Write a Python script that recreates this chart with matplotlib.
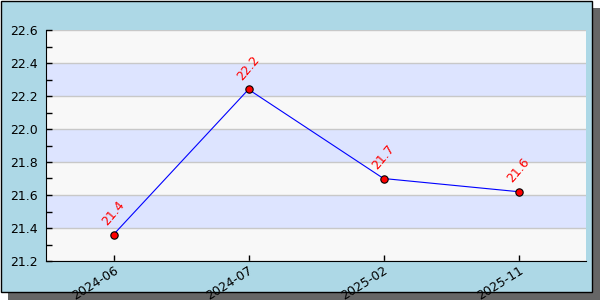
import matplotlib
matplotlib.use('Agg')
import matplotlib.pyplot as plt
from matplotlib.patches import Rectangle
from matplotlib.ticker import MultipleLocator

# Data
dates = ['2024-06', '2024-07', '2025-02', '2025-11']
values = [21.36, 22.24, 21.70, 21.62]
labels = ['21.4', '22.2', '21.7', '21.6']

fig = plt.figure(figsize=(6, 3), dpi=100)
fig.patch.set_facecolor('white')

# shadow + framed background
fig.patches.append(Rectangle((8 / 600, 0), 592 / 600, 292 / 300, transform=fig.transFigure,
                             facecolor='#666666', edgecolor='none', zorder=-3))
fig.patches.append(Rectangle((0.5 / 600, 8.5 / 300), 591 / 600, 291 / 300, transform=fig.transFigure,
                             facecolor='#ADD8E6', edgecolor='black', linewidth=1, zorder=-2))

ax = fig.add_axes([46 / 600, 39 / 300, 540 / 600, 231 / 300])
ax.set_facecolor('#F8F8F8')

ymin, ymax = 21.2, 22.6
ax.set_ylim(ymin, ymax)
ax.set_xlim(-0.5, len(dates) - 0.5)

# alternating bands
y = ymin + 0.2
while y < ymax - 1e-9:
    ax.axhspan(y, y + 0.2, facecolor='#DDE4FF', edgecolor='none', zorder=0)
    y += 0.4

ax.yaxis.set_major_locator(MultipleLocator(0.2))
ax.yaxis.set_minor_locator(MultipleLocator(0.1))
ax.grid(axis='y', which='major', color='#C8C8C8', linewidth=1, zorder=1)
ax.set_axisbelow(True)

x = range(len(dates))
ax.plot(x, values, color='blue', linewidth=0.8, zorder=3)
ax.scatter(x, values, s=28, color='red', edgecolor='black', linewidth=0.8, zorder=4)

for xi, v, lab in zip(x, values, labels):
    ax.annotate(lab, (xi, v), xytext=(-3, 5), textcoords='offset points',
                color='red', fontsize=9, rotation=50, ha='left', va='bottom',
                rotation_mode='anchor')

ax.set_xticks(list(x))
ax.set_xticklabels(dates, rotation=32, ha='right', va='top', rotation_mode='anchor', fontsize=9)
ax.tick_params(axis='both', which='both', direction='in', length=4, width=1)
ax.tick_params(axis='x', pad=2)
ax.tick_params(axis='y', labelsize=9, pad=6)
ax.set_yticklabels([f'{t:.1f}' for t in ax.get_yticks()])

for s in ['top', 'right']:
    ax.spines[s].set_visible(False)

fig.savefig('out.png', dpi=100)
